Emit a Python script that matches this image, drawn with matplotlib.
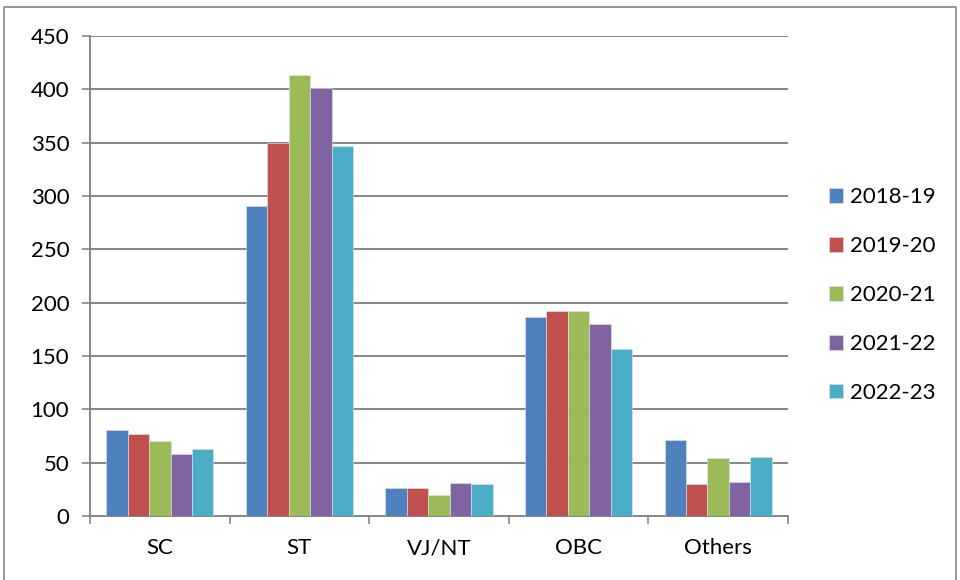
import matplotlib.pyplot as plt
import numpy as np

# data
categories = ['SC', 'ST', 'VJ/NT', 'OBC', 'Others']
years = ['2018-19', '2019-20', '2020-21', '2021-22', '2022-23']
v_2018 = [81, 291, 26, 187, 71]
v_2019 = [77, 350, 26, 192, 30]
v_2020 = [70, 413, 20, 192, 54]
v_2021 = [58, 401, 31, 180, 32]
v_2022 = [63, 347, 30, 157, 55]
series = [v_2018, v_2019, v_2020, v_2021, v_2022]
colors = ['#4F81BD', '#C0504D', '#9BBB59', '#8064A2', '#4BACC6']

plt.rcParams['font.family'] = ['Lato', 'DejaVu Sans']

fig = plt.figure(figsize=(9.6, 5.8), dpi=100)
ax = fig.add_axes([90/960, 1 - 516/580, (788 - 90)/960, (516 - 36)/580])

x = np.arange(len(categories))
w = 1 / 6.5
for i, (vals, lab, c) in enumerate(zip(series, years, colors)):
    ax.bar(x + (i - 2) * w, vals, width=w, color=c, label=lab,
           edgecolor='#dde6f0', linewidth=0.4, zorder=3)

ax.set_xlim(-0.5, len(categories) - 0.5)
ax.set_ylim(0, 450)
ax.set_yticks(range(0, 451, 50))
ax.grid(axis='y', color='#868686', linewidth=1.4, zorder=0)

# category boundary ticks on x axis
ax.set_xticks(np.arange(-0.5, len(categories), 1))
ax.set_xticklabels([])
ax.set_xticks(x, minor=True)
ax.set_xticklabels(categories, minor=True, fontsize=16)
ax.tick_params(axis='x', which='major', length=6, color='#868686', width=1.2)
ax.tick_params(axis='x', which='minor', length=0, pad=16)
ax.tick_params(axis='y', length=6, color='#868686', width=1.2, labelsize=16, pad=9)

for s in ['top', 'right']:
    ax.spines[s].set_visible(False)
for s in ['left', 'bottom']:
    ax.spines[s].set_color('#868686')
    ax.spines[s].set_linewidth(1.4)

leg = ax.legend(loc='center left', bbox_to_anchor=(829/960, 1 - 295/580),
                bbox_transform=fig.transFigure, frameon=False, fontsize=16,
                handlelength=0.65, handleheight=0.65, handletextpad=0.3,
                labelspacing=1.3, borderpad=0, borderaxespad=0)

# outer chart border
fig.add_artist(plt.Line2D([4/960, 4/960, 956/960, 956/960],
                          [0, 1 - 7/580, 1 - 7/580, 0],
                          transform=fig.transFigure, color='#868686', linewidth=1.2))

fig.savefig('out.png', dpi=100)
